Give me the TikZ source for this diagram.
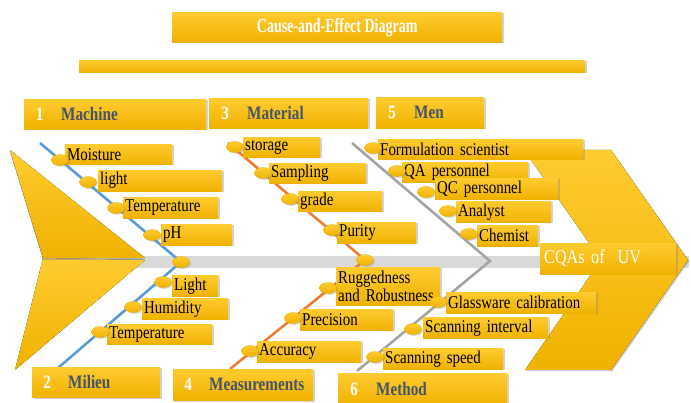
\documentclass[tikz,border=0pt]{standalone}
\usepackage{fontspec}
\setmainfont{Liberation Serif}
\newfontfamily\hdfont{Liberation Serif}[FakeStretch=0.8]
\newfontfamily\ttlfont{Liberation Serif}[FakeStretch=0.7]
\newfontfamily\itfont{Liberation Serif}[FakeStretch=0.83]
\usetikzlibrary{shadows,shapes.geometric}
\definecolor{yTop}{HTML}{FFCB30}
\definecolor{yBot}{HTML}{F0B200}
\definecolor{yEdge}{HTML}{E8AE00}
\definecolor{bBlue}{HTML}{5B9BD5}
\definecolor{bOrange}{HTML}{ED7D31}
\definecolor{bGray}{HTML}{A5A5A5}
\definecolor{band}{HTML}{D9D9D9}
\definecolor{slate}{HTML}{44546A}
\tikzset{
  ylw/.style={top color=yTop, bottom color=yBot},
  shd/.style={drop shadow={shadow xshift=1.3pt, shadow yshift=-1.3pt, opacity=0.35}},
  itembox/.style={ylw, shd, inner xsep=2pt, inner ysep=0pt, align=left, anchor=north west,
    font=\itfont\fontsize{18}{16}\selectfont, text=black},
  numbox/.style={ylw, shd, inner sep=0pt, anchor=north west, text=white,
    font=\hdfont\bfseries\fontsize{19}{20}\selectfont},
  hdbox/.style={ylw, shd, inner xsep=6pt, inner ysep=0pt, align=left, anchor=north west, text=slate,
    font=\hdfont\bfseries\fontsize{19}{20}\selectfont},
  bead/.style={ellipse, ylw, draw=yEdge, line width=0.3pt, minimum width=17pt, minimum height=11pt, inner sep=0pt, shd},
  bone/.style={line width=2.6pt},
}
\newcommand\ibox[6]{%
  \pgfmathsetmacro\bw{#4-#2-4}\pgfmathsetmacro\bh{#5-#3}%
  \node[itembox, text width=\bw pt, minimum height=\bh pt] (#1) at (#2,#3) {#6};}
\newcommand\hdr[8]{%
  \pgfmathsetmacro\nw{#4-#3}\pgfmathsetmacro\lw{#5-#4-12}\pgfmathsetmacro\bh{#7-#6}%
  \node[numbox, minimum width=\nw pt, minimum height=\bh pt] (#1n) at (#3,#6) {#2};
  \node[hdbox, text width=\lw pt, minimum height=\bh pt] (#1) at (#4,#6) {#8};}
\begin{document}
\begin{tikzpicture}[x=1pt,y=-1pt]
\useasboundingbox (0,0) rectangle (691,403);
% spine band
\fill[band] (43,256) rectangle (689,268);
% right chevron
\fill[ylw, shd] (524,150) -- (611,150) -- (688,260) -- (611,370) -- (525,370) -- (601,260) -- cycle;
% left chevron
\fill[ylw] (43,258) -- (145,260) -- (15,370) -- cycle;
\fill[ylw, drop shadow={shadow xshift=0pt, shadow yshift=-2pt, opacity=0.45}] (10,150) -- (145,258) -- (43,258) -- cycle;

% bone anchors
\coordinate (mc0) at (40,143);
\coordinate (mi0) at (58,368);
\coordinate (ma0) at (228,143);
\coordinate (me0) at (230,369);
\coordinate (mn0) at (352,143);
\coordinate (mt0) at (357,371);
\coordinate (mnS) at (490,261);
\coordinate (s1c) at (181,262);
\coordinate (s2c) at (365,260);
\draw[bone, bBlue] (mc0) -- (s1c) -- (mi0);
\draw[bone, bOrange] (ma0) -- (s2c) -- (me0);
\draw[bone, bGray] (mn0) -- (mnS) -- (mt0);
\node[bead] (s1) at (s1c) {};
\node[bead] (s2) at (s2c) {};

% Machine
\ibox{moist}{65}{144}{172}{164}{Moisture}
\ibox{light}{98}{170}{222}{191}{light}
\ibox{temp}{123}{197}{218}{218}{Temperature}
\ibox{ph}{161}{224}{232}{245}{pH}
\node[bead] (e1) at (60,160) {};
\node[bead] (e2) at (88,182) {};
\node[bead] (e3) at (116,208) {};
\node[bead] (e4) at (152,235) {};
% Milieu
\ibox{lightb}{172}{275}{218}{296}{Light}
\ibox{humid}{142}{298}{228}{319}{Humidity}
\ibox{tempb}{107}{324}{212}{344}{Temperature}
\node[bead] (e5) at (163,282) {};
\node[bead] (e6) at (133,307) {};
\node[bead] (e7) at (100,332) {};
% Material
\ibox{stor}{243}{137}{320}{157}{storage}
\ibox{samp}{269}{163}{366}{183}{Sampling}
\ibox{grade}{298}{191}{382}{211}{grade}
\ibox{pur}{337}{222}{416}{243}{Purity}
\node[bead] (e8) at (235,147) {};
\node[bead] (e9) at (263,173) {};
\node[bead] (e10) at (290,199) {};
\node[bead] (e11) at (332,230) {};
% Measurements
\ibox{rug}{336}{267}{440}{305}{Ruggedness\\and Robustness}
\ibox{prec}{300}{309}{393}{330}{Precision}
\ibox{acc}{257}{341}{361}{362}{Accuracy}
\node[bead] (e12) at (328,288) {};
\node[bead] (e13) at (293,318) {};
\node[bead] (e14) at (250,351) {};
% Men
\ibox{form}{378}{139}{583}{159}{Formulation scientist}
\ibox{qa}{402}{162}{528}{182}{QA personnel}
\ibox{qc}{435}{178}{558}{199}{QC personnel}
\ibox{ana}{456}{201}{551}{222}{Analyst}
\ibox{chem}{477}{225}{538}{246}{Chemist}
\node[bead] (e15) at (373,148) {};
\node[bead] (e16) at (397,171) {};
\node[bead] (e17) at (426,192) {};
\node[bead] (e18) at (448,211) {};
\node[bead] (e19) at (469,234) {};
% Method
\ibox{glass}{446}{292}{596}{313}{Glassware calibration}
\ibox{intv}{423}{317}{548}{338}{Scanning interval}
\ibox{speed}{383}{348}{503}{369}{Scanning speed}
\node[bead] (e20) at (438,302) {};
\node[bead] (e21) at (413,329) {};
\node[bead] (e22) at (375,357) {};

% effect
\node[ylw, shd, anchor=north west, minimum width=136pt, minimum height=31pt, text width=128pt, inner xsep=4pt, inner ysep=0pt, align=left, text=white, font=\itfont\fontsize{19.5}{20}\selectfont] (cqa) at (540,243) {CQAs of~ UV};

% headers
\hdr{mach}{1}{24}{55}{206}{99}{129}{Machine}
\hdr{mat}{3}{209}{241}{368}{98}{128}{Material}
\hdr{men}{5}{376}{408}{484}{97}{128}{Men}
\hdr{mil}{2}{32}{62}{160}{367}{397}{Milieu}
\hdr{meas}{4}{173}{203}{313}{369}{400}{Measurements}
\hdr{meth}{6}{338}{370}{507}{373}{405}{Method}

% title and bar
\node[ylw, shd, anchor=north west, minimum width=330pt, minimum height=30pt, inner sep=0pt, text=white, font=\ttlfont\bfseries\fontsize{20}{21}\selectfont] (title) at (172,12) {Cause-and-Effect Diagram};
\node[ylw, shd, anchor=north west, minimum width=506pt, minimum height=12pt, inner sep=0pt] (bar) at (79,60) {};
\end{tikzpicture}
\end{document}
